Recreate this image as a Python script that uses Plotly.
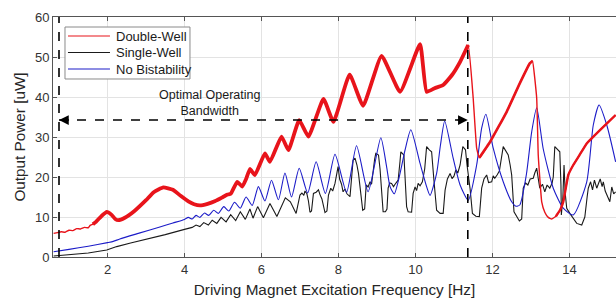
import numpy as np
import plotly.graph_objects as go

# ---------------- data ----------------
red_x = [0.6, 0.7, 0.8, 0.9, 1.0, 1.1, 1.2, 1.3, 1.4, 1.5, 1.55, 1.62, 1.7, 1.85, 1.98, 2.1, 2.2, 2.28,
         2.45, 2.7, 3.0, 3.2, 3.45, 3.7, 3.9, 4.1, 4.25, 4.4, 4.6, 4.8, 5.0, 5.12, 5.2, 5.37, 5.5, 5.6,
         5.7, 5.83, 6.09, 6.22, 6.52, 6.70, 6.98, 7.22, 7.61, 7.87, 8.29, 8.64, 9.12, 9.6, 10.12,
         10.29, 10.5, 10.72, 10.95, 11.16, 11.37, 11.5, 11.59, 11.66, 11.94, 12.37, 12.71, 12.97,
         13.04, 13.15, 13.19, 13.28, 13.36, 13.45, 13.54, 13.65, 13.76, 13.84, 13.97, 14.1, 14.25,
         14.45, 14.8, 15.2]
red_y = [5.9, 6.1, 6.3, 6.2, 6.7, 6.6, 7.1, 7.0, 7.4, 7.3, 7.9, 8.2, 8.8, 10.3, 11.3, 10.6, 9.5, 9.2,
         9.8, 11.5, 14.2, 16.2, 17.4, 16.8, 15.3, 13.9, 13.2, 12.9, 13.3, 14.0, 15.0, 15.6, 15.8, 18.8,
         17.6, 19.5, 22.0, 20.5, 25.9, 23.8, 30.1, 26.7, 34.2, 30.1, 39.5, 33.8, 45.6, 37.8, 50.3,
         41.3, 53.2, 41.3, 42.2, 43.0, 45.5, 48.8, 53.0, 39.7, 27.2, 24.8, 28.8, 36.3, 43.4, 48.4,
         49.0, 39.7, 25.5, 13.8, 11.2, 9.9, 9.5, 10.2, 11.8, 13.8, 20.5, 23.0, 25.3,
         28.4, 31.8, 35.5]

black_x = [0.6, 1.0, 1.5, 1.98, 2.24, 2.6, 3.0, 3.5, 4.0, 4.2, 4.3, 4.4, 4.5, 4.62, 4.72, 4.84,
           4.95, 5.08, 5.2, 5.33, 5.45, 5.58, 5.7, 5.78, 5.9, 6.05, 6.22, 6.4, 6.62, 6.75, 6.9,
           7.0, 7.05, 7.1, 7.13, 7.18, 7.22, 7.26, 7.3, 7.35, 7.42, 7.48, 7.52, 7.57, 7.65, 7.7,
           7.74, 7.8, 7.85, 7.91, 7.99, 8.03, 8.08, 8.12, 8.17, 8.22, 8.3, 8.35, 8.38, 8.43, 8.48,
           8.52, 8.58, 8.63, 8.68, 8.72, 8.77, 8.82, 8.86, 8.89, 8.94, 8.97, 9.04, 9.08, 9.12,
           9.16, 9.22, 9.26, 9.29, 9.33, 9.38, 9.43, 9.47, 9.52, 9.55, 9.6, 9.62, 9.7, 9.74, 9.77,
           9.81, 9.9, 9.94, 9.99, 10.03, 10.07, 10.12, 10.18, 10.24, 10.29, 10.36, 10.42, 10.48,
           10.55, 10.64, 10.72, 10.77, 10.83, 10.9, 10.95, 11.0, 11.05, 11.1, 11.16, 11.23, 11.3,
           11.34, 11.37, 11.42, 11.48, 11.57, 11.66, 11.72, 11.78, 11.85, 11.9, 11.98, 12.02,
           12.06, 12.12, 12.18, 12.28, 12.34, 12.41, 12.46, 12.5, 12.56, 12.62, 12.7, 12.76, 12.8,
           12.86, 12.92, 12.98, 13.06, 13.1, 13.15, 13.2, 13.23, 13.3, 13.36, 13.42, 13.49, 13.55,
           13.58, 13.62, 13.7, 13.75, 13.78, 13.79, 13.83, 13.86, 13.89, 13.93, 14.01, 14.1, 14.19,
           14.32, 14.4, 14.46, 14.49, 14.55, 14.6, 14.65, 14.71, 14.76, 14.8, 14.85, 14.88, 14.93,
           14.98, 15.05, 15.1, 15.15, 15.2]
black_y = [0.25, 0.5, 1.0, 1.75, 2.6, 3.5, 4.4, 5.6, 6.9, 7.4, 8.0, 7.6, 8.6, 8.0, 9.2, 8.4,
           9.9, 8.8, 10.6, 9.1, 11.3, 9.4, 12.0, 9.7, 12.6, 9.8, 13.4, 10.1, 14.8, 13.8, 10.9,
           15.5, 16.0, 15.4, 16.5, 15.8, 14.0, 11.2, 11.5, 15.9, 16.2, 16.8, 15.6, 14.5, 11.1, 11.5,
           15.5, 17.2, 16.5, 18.4, 22.6, 19.5, 18.2, 16.3, 17.0, 15.8, 15.1, 20.0, 24.2, 24.7, 23.0,
           20.9, 15.1, 11.7, 12.0, 18.0, 17.5, 18.8, 18.2, 20.9, 24.5, 25.9, 25.5, 22.0, 16.0,
           11.3, 11.3, 12.0, 17.2, 18.5, 18.4, 17.6, 18.2, 19.0, 19.2, 24.0, 26.3, 25.5, 19.2, 12.6,
           11.3, 11.2, 15.9, 17.5, 16.6, 18.4, 17.8, 18.8, 22.0, 27.6, 26.8, 26.3, 19.2,
           11.7, 10.9, 10.9, 16.7, 19.5, 20.9, 19.6, 20.2, 21.8, 21.0, 23.0, 27.6, 26.8,
           23.0, 20.9, 17.0, 10.9, 10.2, 10.1, 17.2, 19.5, 20.5, 18.6, 18.8, 20.3,
           19.7, 20.5, 21.5, 27.6, 26.5, 25.5, 23.0, 20.5, 11.3, 10.3, 9.0, 9.5, 17.2,
           18.5, 18.0, 19.5, 19.7, 21.0, 22.2, 19.0, 17.2, 18.2, 16.3, 18.0, 17.2, 18.5,
           20.0, 27.6, 26.8, 26.3, 18.0, 10.5, 15.0, 23.0, 16.0, 12.2, 10.9, 9.5, 8.4,
           8.0, 10.0, 15.0, 17.2, 18.8, 16.8, 19.2, 17.2, 18.5, 19.5, 17.6, 18.8, 16.5,
           15.2, 13.8, 17.5, 15.8, 16.3]

blue_x = [0.6, 1.0, 1.5, 2.0, 2.15, 2.32, 2.8, 3.36, 3.7, 4.0, 4.1, 4.2, 4.3, 4.4, 4.52, 4.63,
          4.76, 4.88, 5.02, 5.15, 5.3, 5.45, 5.6, 5.76, 5.92, 6.09, 6.26, 6.44, 6.61, 6.78, 6.98,
          7.2, 7.42, 7.66, 7.91, 8.21, 8.47, 8.77, 9.1, 9.25, 9.34, 9.45, 9.6, 9.73, 9.88, 10.12,
          10.29, 10.38, 10.55, 10.65, 10.76, 10.98, 11.16, 11.37, 11.59, 11.72, 11.83, 12.02,
          12.28, 12.5, 12.61, 12.71, 12.88, 13.02, 13.15, 13.32, 13.58, 13.84, 14.1, 14.45,
          14.62, 14.77, 14.97, 15.2]
blue_y = [1.3, 1.9, 2.7, 3.6, 3.9, 4.5, 5.9, 7.5, 8.5, 9.4, 9.9, 9.5, 10.4, 9.9, 11.0, 10.4,
          11.7, 10.9, 12.6, 11.5, 13.7, 12.2, 15.0, 12.9, 17.6, 14.0, 19.2, 14.3, 21.0, 15.0, 22.2,
          16.0, 23.8, 15.9, 25.7, 16.2, 27.8, 16.3, 29.8, 22.6, 17.6, 15.8, 20.9, 26.75, 31.8, 23.4,
          17.6, 15.4, 20.9, 28.0, 34.0, 24.7, 18.0, 14.2, 23.0, 32.2, 35.7, 27.2,
          18.8, 13.8, 12.7, 13.0, 20.5, 31.3, 37.3, 27.0, 17.2, 12.2, 10.5, 18.8,
          33.0, 38.0, 33.0, 23.8]

series_names = ["Double-Well", "Single-Well", "No Bistability"]
x_ticks = [2, 4, 6, 8, 10, 12, 14]
y_ticks = [0, 10, 20, 30, 40, 50, 60]
band_lo, band_hi, band_level = 0.74, 11.36, 34.25
band_label = "Optimal Operating<br>Bandwidth"
x_title = "Driving Magnet Excitation Frequency [Hz]"
y_title = "Output Power [uW]"

# ---------------- figure ----------------
RED, BLACK, BLUE = "#e8141b", "#1a1a1a", "#1c1cc8"
series_colors = [RED, BLACK, BLUE]
FONT = "Liberation Sans, Arial, sans-serif"

rx = np.array(red_x)
ry = np.array(red_y)

fig = go.Figure()
fig.add_trace(go.Scatter(x=black_x, y=black_y, mode="lines", name=series_names[1],
                         line=dict(color=BLACK, width=1.1), showlegend=False))
fig.add_trace(go.Scatter(x=blue_x, y=blue_y, mode="lines", name=series_names[2],
                         line=dict(color=BLUE, width=1.1, shape="spline", smoothing=0.6),
                         showlegend=False))
fig.add_trace(go.Scatter(x=red_x, y=red_y, mode="lines", name=series_names[0],
                         line=dict(color=RED, width=1.4, shape="spline", smoothing=0.3),
                         showlegend=False))
# thicker (noisy-band) parts of the double-well response
m1 = (rx >= 1.62) & (rx <= 11.37)
fig.add_trace(go.Scatter(x=rx[m1], y=ry[m1], mode="lines", showlegend=False, hoverinfo="skip",
                         name=series_names[0],
                         line=dict(color=RED, width=3.8, shape="spline", smoothing=0.4)))
m2 = (rx >= 11.66) & (rx <= 13.04)
fig.add_trace(go.Scatter(x=rx[m2], y=ry[m2], mode="lines", showlegend=False, hoverinfo="skip",
                         name=series_names[0],
                         line=dict(color=RED, width=2.6, shape="spline", smoothing=0.3)))
m3 = (rx >= 13.65)
fig.add_trace(go.Scatter(x=rx[m3], y=ry[m3], mode="lines", showlegend=False, hoverinfo="skip",
                         name=series_names[0],
                         line=dict(color=RED, width=2.4, shape="spline", smoothing=0.3)))

# bandwidth markers
for xv in (band_lo, band_hi):
    fig.add_shape(type="line", x0=xv, x1=xv, y0=0, y1=60, xref="x", yref="y",
                  line=dict(color="black", width=1.6, dash="dash"))
fig.add_shape(type="line", x0=band_lo, x1=band_hi, y0=band_level, y1=band_level,
              xref="x", yref="y", line=dict(color="black", width=1.6, dash="dash"))
fig.add_annotation(x=band_lo, y=band_level, ax=band_lo + 0.3, ay=band_level,
                   axref="x", ayref="y", xref="x", yref="y", text="", showarrow=True,
                   arrowhead=2, arrowsize=1.3, arrowwidth=1.5, arrowcolor="black")
fig.add_annotation(x=band_hi, y=band_level, ax=band_hi - 0.3, ay=band_level,
                   axref="x", ayref="y", xref="x", yref="y", text="", showarrow=True,
                   arrowhead=2, arrowsize=1.3, arrowwidth=1.5, arrowcolor="black")
fig.add_annotation(x=4.65, y=38.6, xref="x", yref="y", text=band_label, showarrow=False,
                   font=dict(family=FONT, size=12.5, color="#1a1a1a"), align="center")

# compact MATLAB-style legend box (paper coordinates)
LEG_X0, LEG_X1, LEG_Y0, LEG_Y1 = 0.0213, 0.2433, 0.7417, 0.9583
LEG_ROWS = [0.9208, 0.8521, 0.7833]
fig.add_shape(type="rect", xref="paper", yref="paper", x0=LEG_X0, x1=LEG_X1, y0=LEG_Y0, y1=LEG_Y1,
              line=dict(color="#8a8a8a", width=1), fillcolor="white", layer="above")
for name, col, yy in zip(series_names, series_colors, LEG_ROWS):
    fig.add_shape(type="line", xref="paper", yref="paper", x0=0.0266, x1=0.1012, y0=yy, y1=yy,
                  line=dict(color=col, width=1.1), layer="above")
    fig.add_annotation(x=0.1075, y=yy, xref="paper", yref="paper", text=name, showarrow=False,
                       xanchor="left", yanchor="middle",
                       font=dict(family=FONT, size=13, color="#1a1a1a"))

axis_common = dict(showgrid=True, gridcolor="#e3e3e3", gridwidth=1, zeroline=False,
                   showline=True, linecolor="#555555", linewidth=1, ticks="inside",
                   ticklen=4, tickcolor="#555555",
                   tickfont=dict(family=FONT, size=13, color="#333333"))

fig.update_layout(
    width=616, height=300,
    margin=dict(l=53, r=0, t=17, b=43),
    paper_bgcolor="white", plot_bgcolor="white",
    font=dict(family=FONT, color="#262626"),
    xaxis=dict(range=[0.584, 15.21], tickvals=x_ticks, mirror="ticks",
               title=dict(text=x_title, font=dict(family=FONT, size=15.3, color="#262626"),
                          standoff=8),
               **axis_common),
    yaxis=dict(range=[0, 60], tickvals=y_ticks,
               title=dict(text=y_title, font=dict(family=FONT, size=15.3, color="#262626"),
                          standoff=5),
               **axis_common),
    showlegend=False,
)

fig.write_html("out.html", config={"displayModeBar": False},
               post_script="document.body.style.margin='0';document.body.style.overflow='hidden';")
